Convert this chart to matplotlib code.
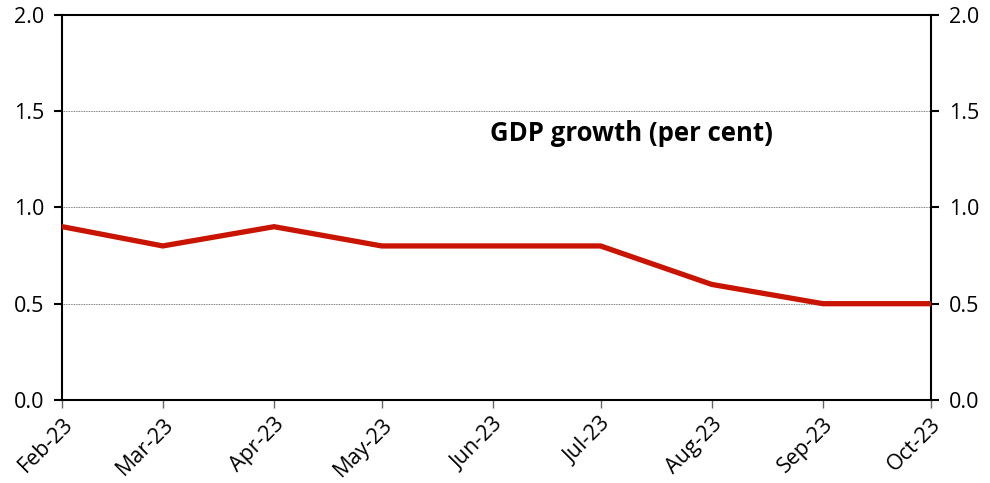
import numpy as np
import pandas as pd
import matplotlib
matplotlib.use("Agg")
import matplotlib.pyplot as plt
import matplotlib.dates as mdates

plt.rcParams['font.family'] = ['Open Sans', 'DejaVu Sans']

# Data
months = ["2023-02-01", "2023-03-01", "2023-04-01", "2023-05-01", "2023-06-01",
          "2023-07-01", "2023-08-01", "2023-09-01", "2023-10-01"]
gdp_growth = [0.9, 0.8, 0.9, 0.8, 0.8, 0.8, 0.6, 0.5, 0.5]
y_ticks = [0.0, 0.5, 1.0, 1.5, 2.0]

dates = pd.to_datetime(months)

fig, ax = plt.subplots(figsize=(9.9, 4.83), dpi=100)
fig.subplots_adjust(left=0.063, right=0.94, top=0.969, bottom=0.172)

ax.plot(dates, gdp_growth, color='#C81400', linewidth=3.8, solid_joinstyle='miter', zorder=3)

ax.set_xlim(dates[0], dates[-1])
ax.set_ylim(0, 2)
ax.set_yticks(y_ticks)
ax.set_yticklabels([f"{v:.1f}" for v in y_ticks])
ax.grid(axis='y', linestyle=(0, (1, 1)), color='#555555', linewidth=0.6)

ax.set_xticks(dates)
ax.xaxis.set_major_formatter(mdates.DateFormatter('%b-%y'))
plt.setp(ax.get_xticklabels(), rotation=45, ha='right', rotation_mode='anchor')

for s in ax.spines.values():
    s.set_linewidth(1.5)
    s.set_color('black')

ax.tick_params(axis='y', which='both', left=True, right=True, labelleft=True,
               labelright=True, direction='out', length=6, width=1.5,
               labelsize=15.5, pad=7, colors='black')
ax.tick_params(axis='x', direction='out', length=6, width=1, color='#666666',
               labelsize=15.5, pad=4)

ax.text(0.656, 0.693, "GDP growth (per cent)", transform=ax.transAxes,
        ha='center', va='center', fontsize=18.5, fontweight='bold')

fig.savefig("out.png", dpi=100)
